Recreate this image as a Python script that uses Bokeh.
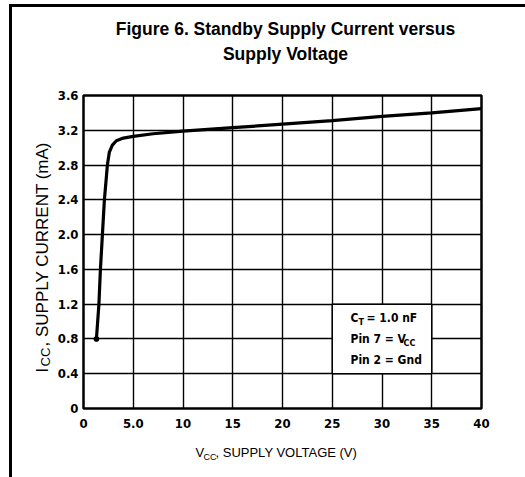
import math
from bokeh.plotting import figure
from bokeh.models import BoxAnnotation, FixedTicker, Range1d
from bokeh.core.properties import value
from bokeh.embed import file_html
from bokeh.resources import INLINE

# ---- data ----
vcc = [1.3, 1.55, 1.7, 1.9, 2.1, 2.4, 2.6, 2.9, 3.3, 4.0, 5.0, 7.0, 10, 15, 20, 25, 30, 35, 40]
icc = [0.8, 1.2, 1.6, 2.0, 2.4, 2.8, 2.95, 3.03, 3.08, 3.11, 3.13, 3.16, 3.19, 3.23, 3.27, 3.31, 3.36, 3.40, 3.45]
x_ticks = [0, 5, 10, 15, 20, 25, 30, 35, 40]
x_tick_labels = ["0", "5.0", "10", "15", "20", "25", "30", "35", "40"]
y_ticks = [0, 0.4, 0.8, 1.2, 1.6, 2.0, 2.4, 2.8, 3.2, 3.6]
y_tick_labels = ["0", "0.4", "0.8", "1.2", "1.6", "2.0", "2.4", "2.8", "3.2", "3.6"]

FONT = "DejaVu Sans Condensed"
TFONT = "Liberation Sans"

# frame placement in page pixels
FL, FR, FT, FB = 83, 481, 95, 408
XMAX, YMAX = 40, 3.6
OX, OY = 12, 7          # canvas origin on the page (after css margin + border)
W, H = 525 - OX, 477 - OY

def X(px):
    return (px - FL) / (FR - FL) * XMAX

def Y(py):
    return (FB - py) / (FB - FT) * YMAX

p = figure(width=W, height=H, frame_width=FR - FL, frame_height=FB - FT,
           min_border_left=FL - OX, min_border_right=W - (FR - OX),
           min_border_top=FT - OY, min_border_bottom=H - (FB - OY),
           x_range=Range1d(0, XMAX), y_range=Range1d(0, YMAX),
           output_backend="svg", toolbar_location=None,
           styles={"margin-left": "9px", "margin-top": "4px",
                   "border-top": "3px solid black", "border-left": "3px solid black"})
p.background_fill_color = "white"
p.border_fill_color = "white"
p.outline_line_color = "black"
p.outline_line_width = 2.5

for ax, ticks, labels in ((p.xaxis[0], x_ticks, x_tick_labels), (p.yaxis[0], y_ticks, y_tick_labels)):
    ax.ticker = FixedTicker(ticks=ticks)
    ax.major_label_overrides = {t: l for t, l in zip(ticks, labels)}
    ax.axis_line_color = None
    ax.major_tick_line_color = None
    ax.minor_tick_line_color = None
    ax.major_tick_out = 0
    ax.major_tick_in = 0
    ax.major_label_text_font = FONT
    ax.major_label_text_font_size = "13px"
    ax.major_label_text_font_style = "bold"
    ax.major_label_text_color = "black"
p.xaxis.major_label_standoff = 10
p.yaxis.major_label_standoff = 5

p.xgrid.ticker = FixedTicker(ticks=x_ticks)
p.ygrid.ticker = FixedTicker(ticks=y_ticks)
for g in (p.xgrid[0], p.ygrid[0]):
    g.grid_line_color = "black"
    g.grid_line_width = 1.4
    g.grid_line_alpha = 1.0

# curve
p.line(vcc, icc, line_color="black", line_width=3.2)
p.scatter(vcc[:1], icc[:1], size=5, color="black")

# white legend box (above grid, below the texts)
p.add_layout(BoxAnnotation(left=25, right=35, bottom=0.4, top=1.2,
                           fill_color="white", fill_alpha=1.0,
                           line_color="black", line_alpha=1.0, line_width=1.5, level="annotation"))

def lab(px, py, text, size="12px", font=TFONT, style="bold", align="left", baseline="middle", angle=0.0):
    p.text(x=[X(px)], y=[Y(py)], text=[text], text_font=value(font), text_font_size=value(size),
           text_font_style=style, text_align=align, text_baseline=baseline,
           text_color="black", angle=angle, level="overlay")

# title
lab(285, 28, "Figure 6. Standby Supply Current versus", size="17.5px", align="center")
lab(285, 53, "Supply Voltage", size="17.5px", align="center")

# legend text
lab(350, 317, "C", size="12px", font=FONT)
lab(358, 321, "T", size="9px", font=FONT)
lab(366, 317, "= 1.0 nF", size="12px", font=FONT)
lab(350, 338, "Pin 7 = V", size="12px", font=FONT)
lab(403, 342, "CC", size="9px", font=FONT)
lab(350, 359, "Pin 2 = Gnd", size="12px", font=FONT)

# x axis title
lab(195, 452, "V", size="13px", style="normal")
lab(203, 456, "CC", size="9px", style="normal")
lab(215, 452, ", SUPPLY VOLTAGE (V)", size="13px", style="normal")

# y axis title (rotated)
lab(42, 372, "I", size="16px", style="normal", angle=math.pi / 2)
lab(45, 366, "CC", size="13px", style="normal", angle=math.pi / 2)
lab(42, 346, ", SUPPLY CURRENT (mA)", size="17px", style="normal", angle=math.pi / 2)

open("out.html", "w").write(file_html(p, INLINE))
